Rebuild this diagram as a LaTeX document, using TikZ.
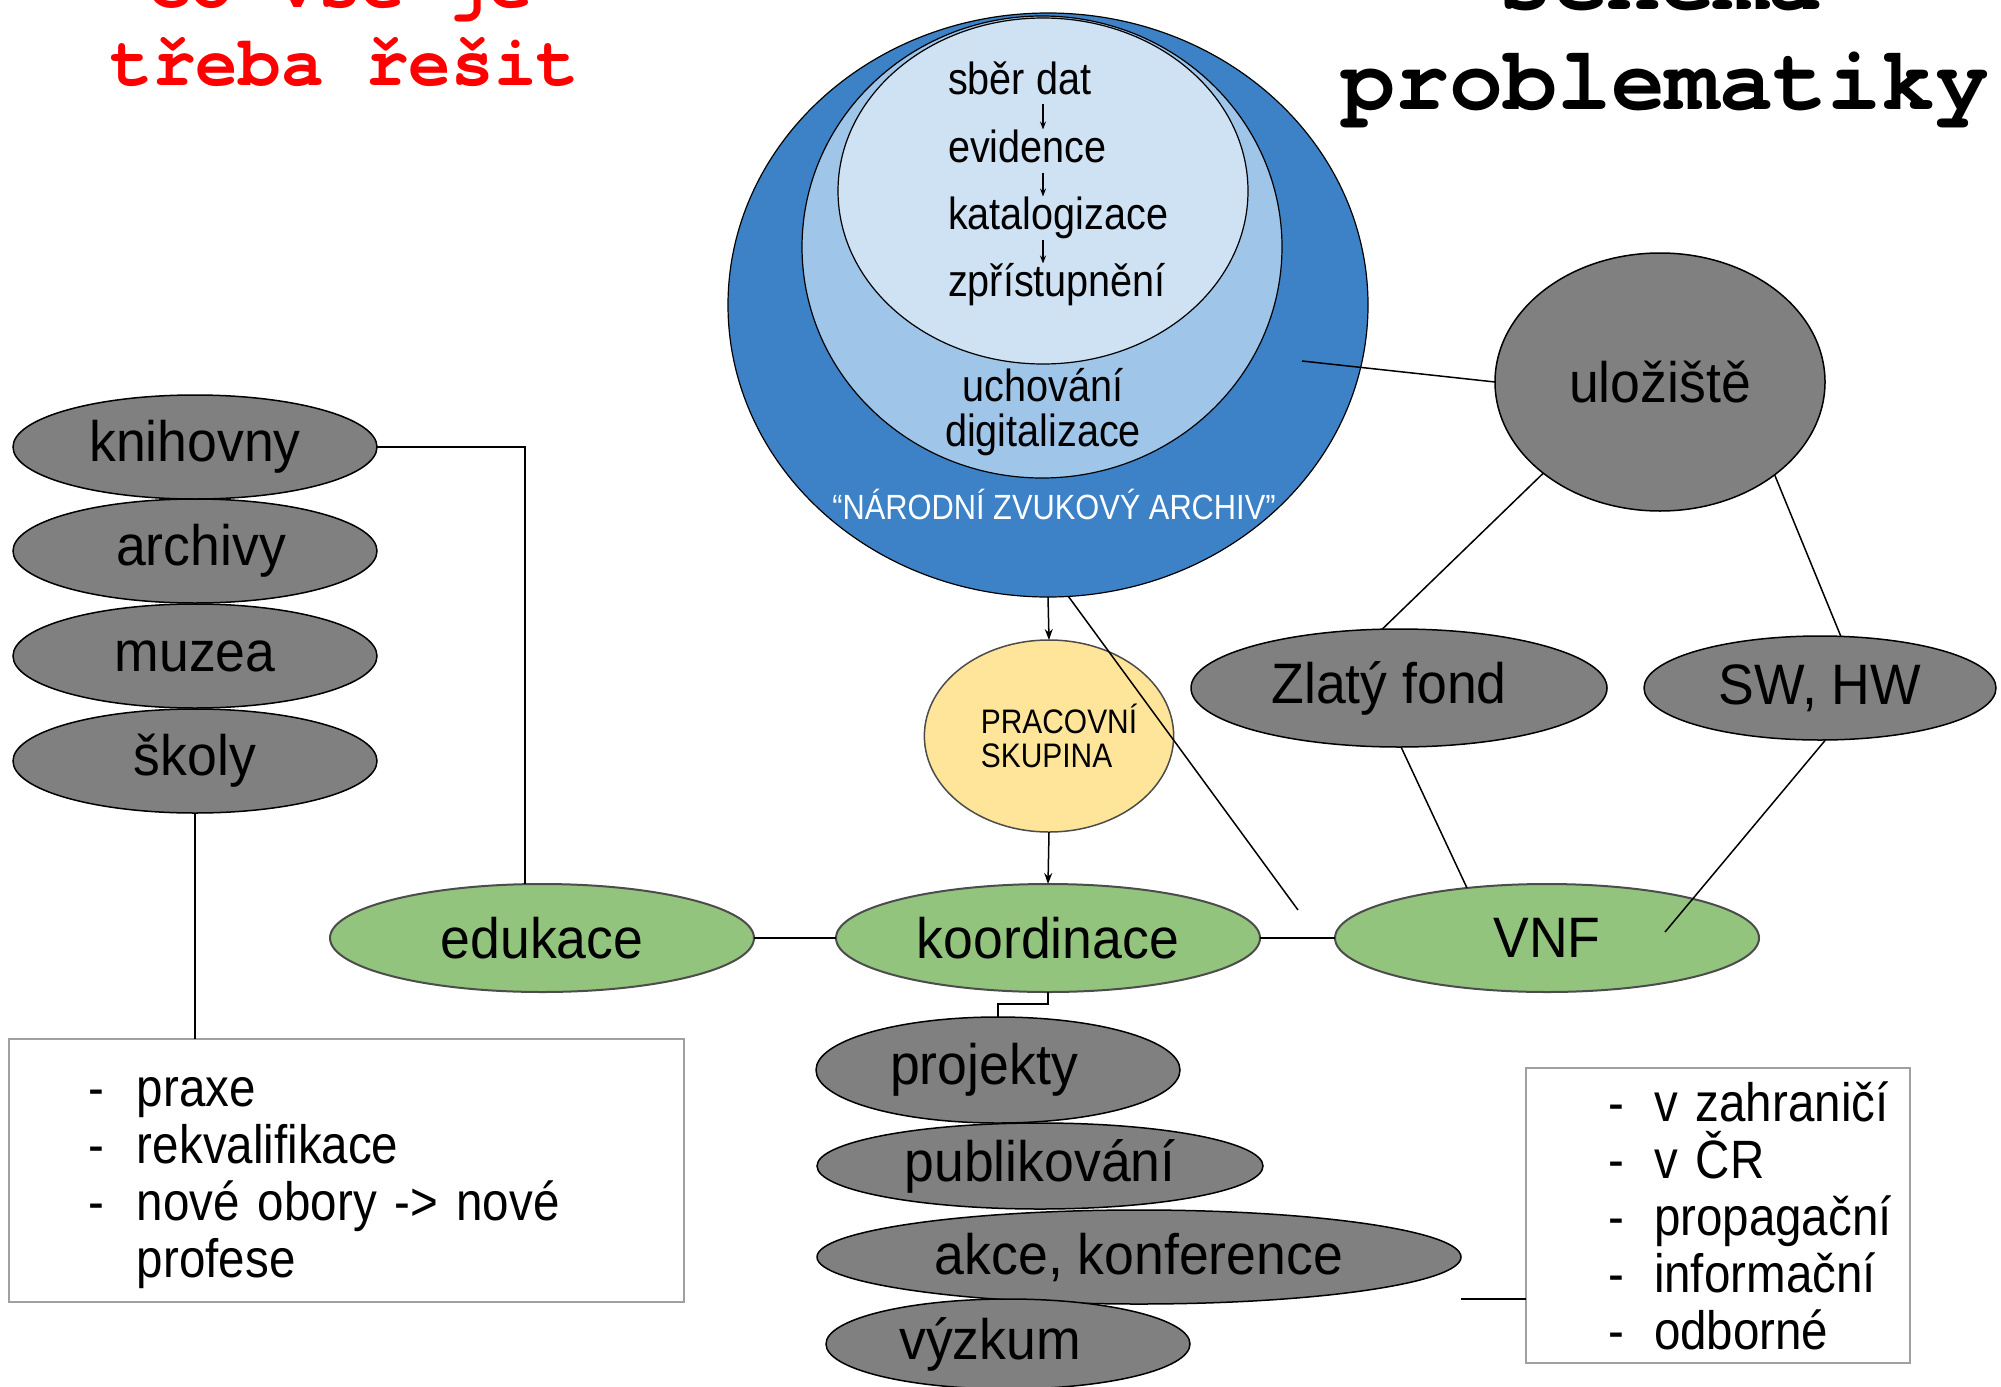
\documentclass[tikz,border=0pt]{standalone}
\usepackage{fontspec}
\setmainfont{Liberation Sans}[FakeStretch=0.88]
\newfontfamily\bigsans{Liberation Sans}[FakeStretch=0.94]
\newfontfamily\monofam{TeX Gyre Cursor}
\usetikzlibrary{shapes.geometric,arrows.meta,calc}
\definecolor{nzaDark}{HTML}{3D82C6}
\definecolor{nzaMid}{HTML}{9FC5E8}
\definecolor{nzaLight}{HTML}{CFE2F3}
\definecolor{grayNode}{HTML}{808080}
\definecolor{greenNode}{HTML}{93C47D}
\definecolor{yellowNode}{HTML}{FFE599}
\definecolor{boxLine}{HTML}{A0A0A0}
\newcommand{\lbitem}[1]{\hspace*{80pt}\makebox[48pt][l]{-}#1}
\newcommand{\rbitem}[1]{\hspace*{82pt}\makebox[46pt][l]{-}#1}
\begin{document}
\begin{tikzpicture}[x=1pt,y=-1pt,
  every node/.style={inner sep=0pt, outer sep=0pt},
  bigfont/.style={font=\bigsans\fontsize{57}{60}\selectfont},
  gell/.style={ellipse, draw=black, line width=1.5pt, fill=grayNode, bigfont},
  grn/.style={ellipse, draw=black!70, line width=2pt, fill=greenNode, bigfont},
  ring/.style={ellipse, draw=black, line width=1.2pt},
  circtext/.style={font=\fontsize{45}{45}\selectfont, text height=33pt, text depth=10pt, anchor=west},
  conn/.style={line width=1.5pt, draw=black},
  arr/.style={conn, -{Stealth[length=11pt,width=8pt]}},
  smallarr/.style={line width=1.2pt, draw=black, -{Stealth[length=8pt,width=6pt]}},
  listbox/.style={rectangle, draw=boxLine, line width=2pt, fill=white, align=left,
    font=\fontsize{54}{57}\selectfont, anchor=north west},
  titlered/.style={anchor=base, text=red, font=\monofam\bfseries\fontsize{71}{71}\selectfont},
  titleblk/.style={anchor=base, text=black, font=\monofam\bfseries\fontsize{90}{90}\selectfont}
]
\useasboundingbox (0,0) rectangle (2001,1386);
\clip (0,0) rectangle (2001,1386);
\fill[white] (0,0) rectangle (2001,1386);

% titles
\node[titlered] (t1a) at (340,8) {Co vše je};
\node[titlered] (t1b) at (345,86) {třeba řešit};
\node[titleblk] (t2a) at (1660,10) {schéma};
\node[titleblk] (t2b) at (1665,110) {problematiky};

% national sound archive rings
\node[ring, fill=nzaDark, minimum width=640pt, minimum height=584pt] (nzaO) at (1048,305) {};
\node[ring, fill=nzaMid, minimum width=480pt, minimum height=462pt] (nzaM) at (1042,247) {};
\node[ring, fill=nzaLight, minimum width=410pt, minimum height=346pt] (nzaI) at (1043,191) {};
\node[circtext] (sber) at (948,83) {sběr dat};
\node[circtext] (evid) at (948,151) {evidence};
\node[circtext] (kata) at (948,218) {katalogizace};
\node[circtext] (zpri) at (948,285) {zpřístupnění};
\node[align=center, font=\fontsize{45}{45}\selectfont] (uchov) at (1043,412) {uchování\\digitalizace};
\node[text=white, font=\fontsize{35}{35}\selectfont] (nzalab) at (1054,504) {“NÁRODNÍ ZVUKOVÝ ARCHIV”};
\coordinate (ax) at (1043,0);

% storage branch
\node[gell, minimum width=330pt, minimum height=258pt] (ul) at (1660,382) {uložiště};
\node[gell, minimum width=416pt, minimum height=118pt] (zf) at (1399,688) {Zlatý fond\kern20pt};
\node[gell, minimum width=352pt, minimum height=104pt] (sw) at (1820,688) {SW, HW};

% working group
\node[ellipse, draw=black!70, line width=1.5pt, fill=yellowNode, minimum width=242pt, minimum height=192pt,
  align=left, font=\fontsize{34}{34}\selectfont] (prac) at (1049,736) {\hspace*{20pt}PRACOVNÍ\\\hspace*{20pt}SKUPINA};

% green row
\node[grn, minimum width=424pt, minimum height=108pt] (edu) at (542,938) {edukace};
\node[grn, minimum width=424pt, minimum height=108pt] (koord) at (1048,938) {koordinace};
\node[grn, minimum width=424pt, minimum height=108pt] (vnf) at (1547,938) {VNF};

% left stack
\node[gell, minimum width=364pt, minimum height=104pt] (kni) at (195,447) {knihovny};
\node[gell, minimum width=364pt, minimum height=104pt] (arc) at (195,551) {\kern12pt archivy};
\node[gell, minimum width=364pt, minimum height=104pt] (muz) at (195,656) {muzea};
\node[gell, minimum width=364pt, minimum height=104pt] (sko) at (195,761) {školy};

% boxes
\node[listbox, text width=675pt, minimum height=263pt] (lbox) at (9,1039)
  {\lbitem{\rule{0pt}{54pt}praxe}\\\lbitem{rekvalifikace}\\\lbitem{nové obory -> nové}\\\hspace*{128pt}profese};
\node[listbox, text width=384pt, minimum height=295pt] (rbox) at (1526,1068)
  {\rbitem{v zahraničí}\\\rbitem{v ČR}\\\rbitem{propagační}\\\rbitem{informační}\\\rbitem{odborné}};

% bottom stack
\node[gell, minimum width=364pt, minimum height=106pt] (proj) at (998,1070) {projekty\kern28pt};
\node[gell, minimum width=446pt, minimum height=86pt] (publ) at (1040,1166) {publikování};
\node[gell, minimum width=644pt, minimum height=94pt] (akce) at (1139,1257) {akce, konference};
\node[gell, minimum width=364pt, minimum height=90pt] (vyz) at (1008,1344) {výzkum\kern36pt};

% connectors
\draw[smallarr] (sber.south -| ax) -- (evid.north -| ax);
\draw[smallarr] (evid.south -| ax) -- (kata.north -| ax);
\draw[smallarr] (kata.south -| ax) -- (zpri.north -| ax);

\coordinate (ringpt) at (1302,361);
\draw[conn] (ringpt) -- (ul.west);
\draw[conn] (ul.218.7) -- (zf.106);
\draw[conn] (ul.321.3) -- (sw.68);
\draw[conn] (zf.-88) -- (vnf.148.8);
\coordinate (vnfin) at (1665,932);
\draw[conn] (sw.-84.5) -- (vnfin);
\coordinate (nzaend) at (1298,910);
\draw[conn] (nzaO.-86.5) -- (nzaend);
\draw[arr] (nzaO.south) -- (prac.north);
\draw[arr] (prac.south) -- (koord.north);
\draw[conn] (edu.east) -- (koord.west);
\draw[conn] (koord.east) -- (vnf.west);
\draw[conn] (kni.east) -| ([xshift=-17pt]edu.north);
\draw[conn] (sko.south) -- (sko.south |- lbox.north);
\draw[conn] (koord.south) -- ++(0,12) -| (proj.north);
\coordinate (akceR) at (1461,1299);
\draw[conn] (akceR) -- (akceR -| rbox.west);
\end{tikzpicture}
\end{document}
